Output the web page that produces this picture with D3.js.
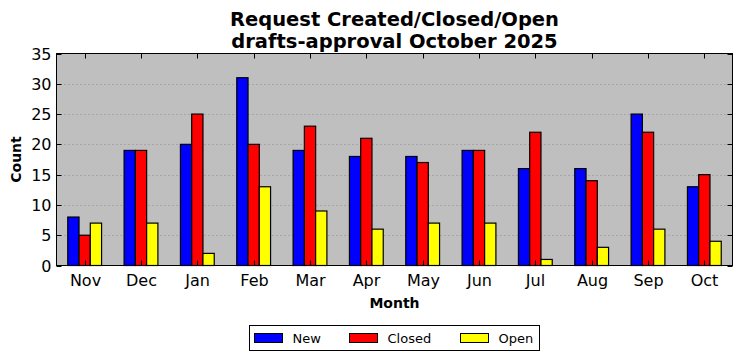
<!DOCTYPE html>
<html><head><meta charset="utf-8">
<script src="https://cdn.jsdelivr.net/npm/d3@7/dist/d3.min.js"></script>
<style>body{margin:0;background:#fff}svg{display:block;font-family:"DejaVu Sans",sans-serif}</style>
</head><body><svg id="c" width="742" height="361"></svg>
<script>
const months = ["Nov","Dec","Jan","Feb","Mar","Apr","May","Jun","Jul","Aug","Sep","Oct"];
const newVals = [8,19,20,31,19,18,18,19,16,16,25,13];
const closedVals = [5,19,25,20,23,21,17,19,22,14,22,15];
const openVals = [7,7,2,13,9,6,7,7,1,3,6,4];
const seriesNames = ["New","Closed","Open"];
const seriesColors = ["#0000ff","#ff0000","#ffff00"];
const yTicks = [0,5,10,15,20,25,30,35];
const titleLines = ["Request Created/Closed/Open","drafts-approval October 2025"];

const series = [newVals, closedVals, openVals];
const svg = d3.select("#c");
const L=56.5, R=732.5, T=53.5, B=265.5;
const x = d3.scaleLinear().domain([-0.5, months.length-0.5]).range([L,R]);
const y = d3.scaleLinear().domain([0,35]).range([B,T]);
const bw = 0.2;

svg.append("rect").attr("x",L).attr("y",T).attr("width",R-L).attr("height",B-T).attr("fill","#bfbfbf");
// grid
svg.append("g").selectAll("line").data(yTicks.filter(d=>d>0&&d<35)).join("line")
  .attr("x1",L).attr("x2",R).attr("y1",d=>Math.round(y(d))+0.5).attr("y2",d=>Math.round(y(d))+0.5)
  .attr("stroke","#808080").attr("stroke-width",0.8).attr("stroke-dasharray","1,3");
// bars
series.forEach((vals,si)=>{
  svg.append("g").selectAll("rect").data(vals).join("rect")
    .attr("x",(d,i)=>x(i+(si-1.5)*bw))
    .attr("width",x(bw)-x(0))
    .attr("y",d=>y(d))
    .attr("height",d=>y(0)-y(d))
    .attr("fill",seriesColors[si]).attr("stroke","#000").attr("stroke-width",1.2);
});
// axes
const ax = svg.append("g");
ax.append("rect").attr("x",L).attr("y",T).attr("width",R-L).attr("height",B-T).attr("fill","none").attr("stroke","#000").attr("stroke-width",1);
yTicks.forEach(t=>{
  const yy=Math.round(y(t))+0.5;
  ax.append("line").attr("x1",L).attr("x2",L+5).attr("y1",yy).attr("y2",yy).attr("stroke","#000");
  ax.append("line").attr("x1",R).attr("x2",R-5).attr("y1",yy).attr("y2",yy).attr("stroke","#000");
  ax.append("text").attr("x",L-5).attr("y",yy).attr("dy","0.36em").attr("text-anchor","end")
    .attr("font-size",16).text(t);
});
months.forEach((m,i)=>{
  const xx=Math.round(x(i))+0.5;
  ax.append("line").attr("x1",xx).attr("x2",xx).attr("y1",B).attr("y2",B-5).attr("stroke","#000");
  ax.append("line").attr("x1",xx).attr("x2",xx).attr("y1",T).attr("y2",T+5).attr("stroke","#000");
  ax.append("text").attr("x",xx).attr("y",B+20).attr("text-anchor","middle").attr("font-size",16).text(m);
});
// titles
titleLines.forEach((t,i)=>{
  svg.append("text").attr("x",(L+R)/2).attr("y",26+i*22).attr("text-anchor","middle")
    .attr("font-size",19.5).attr("font-weight","bold").text(t);
});
svg.append("text").attr("x",(L+R)/2).attr("y",308).attr("text-anchor","middle")
  .attr("font-size",14).attr("font-weight","bold").text("Month");
svg.append("text").attr("transform",`translate(20.5,${(T+B)/2}) rotate(-90)`).attr("text-anchor","middle")
  .attr("font-size",14).attr("font-weight","bold").text("Count");
// legend
const lg = svg.append("g");
lg.append("rect").attr("x",249.5).attr("y",325.5).attr("width",290).attr("height",25).attr("fill","#fff").attr("stroke","#000");
const lx=[254,349,460];
seriesNames.forEach((n,i)=>{
  lg.append("rect").attr("x",lx[i]+0.5).attr("y",333.5).attr("width",28).attr("height",9)
    .attr("fill",seriesColors[i]).attr("stroke","#000");
  lg.append("text").attr("x",lx[i]+38.5).attr("y",338).attr("dy","0.36em").attr("font-size",13).text(n);
});
</script></body></html>
